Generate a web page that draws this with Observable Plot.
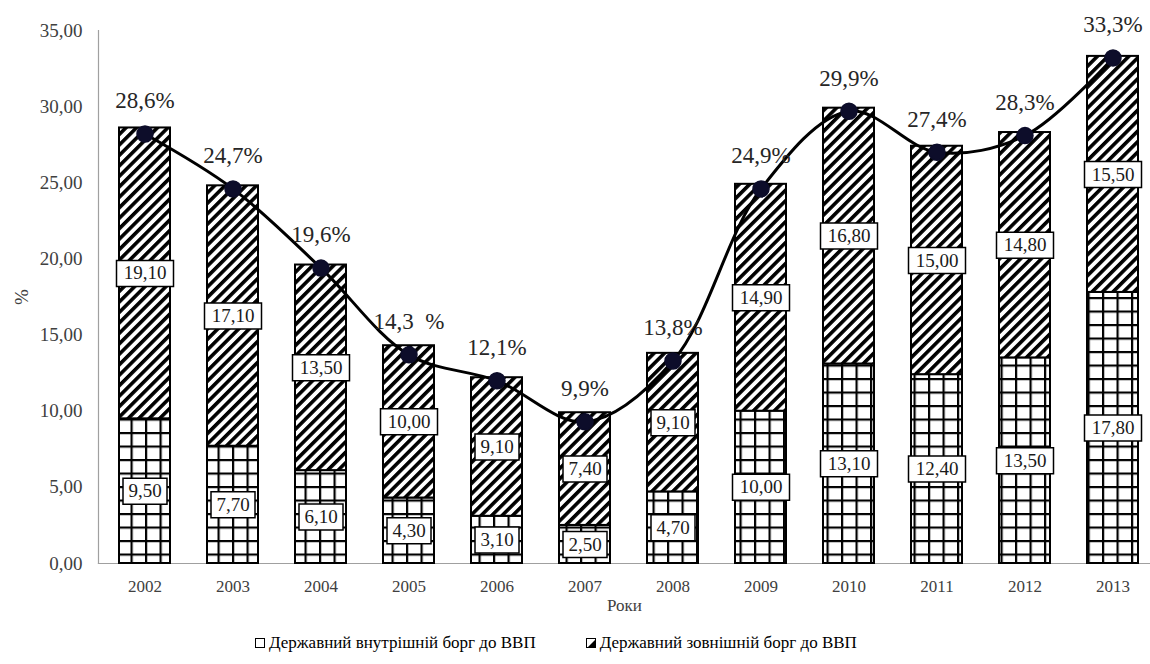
<!DOCTYPE html>
<html><head><meta charset="utf-8">
<script src="https://cdn.jsdelivr.net/npm/d3@7"></script>
<script src="https://cdn.jsdelivr.net/npm/@observablehq/plot@0.6"></script>
<style>
body{margin:0;background:#fff;font-family:"Liberation Serif","DejaVu Serif",serif;overflow:hidden}
#chart{position:relative;width:1150px;height:664px}
.legend{position:absolute;left:255px;top:633px;display:flex;gap:50px;font-size:17px;color:#000;line-height:20px}
.legend span{display:inline-flex;align-items:center;gap:3px}
</style></head><body>
<svg width="0" height="0" style="position:absolute">
<defs>
<pattern id="grid" width="14.5" height="13.5" patternUnits="userSpaceOnUse">
<rect width="14.5" height="13.5" fill="#fff"/>
<path d="M1.1 0V13.5M0 1.1H14.5" stroke="#000" stroke-width="2.2"/>
</pattern>
<pattern id="hatch" width="7.4" height="7.4" patternUnits="userSpaceOnUse" patternTransform="rotate(45)">
<rect width="7.4" height="7.4" fill="#fff"/>
<line x1="1.8" y1="0" x2="1.8" y2="7.4" stroke="#000" stroke-width="3.6"/>
</pattern>
</defs>
</svg>
<div id="chart"></div>
<script>
const years = ["2002","2003","2004","2005","2006","2007","2008","2009","2010","2011","2012","2013"];
const internalDebt = [9.5, 7.7, 6.1, 4.3, 3.1, 2.5, 4.7, 10.0, 13.1, 12.4, 13.5, 17.8];
const externalDebt = [19.1, 17.1, 13.5, 10.0, 9.1, 7.4, 9.1, 14.9, 16.8, 15.0, 14.8, 15.5];
const totalLine = [28.2, 24.6, 19.4, 13.7, 12.0, 9.3, 13.3, 24.6, 29.7, 27.0, 28.1, 33.2];
const totalLabels = ["28,6%","24,7%","19,6%","14,3  %","12,1%","9,9%","13,8%","24,9%","29,9%","27,4%","28,3%","33,3%"];
const yTicks = [0, 5, 10, 15, 20, 25, 30, 35];
const seriesNames = ["Державний внутрішній борг до ВВП", "Державний зовнішній борг до ВВП"];

const fmt = v => v.toFixed(2).replace(".", ",");
const rows = [];
years.forEach((yr, i) => {
  rows.push({year: yr, part: "internal", value: internalDebt[i]});
  rows.push({year: yr, part: "external", value: externalDebt[i]});
});
const patternOf = {internal: "url(#grid)", external: "url(#hatch)"};
const box4 = {draw(c) { c.rect(-22, -13, 44, 26); }};
const box5 = {draw(c) { c.rect(-28.5, -13, 57, 26); }};
const serif = "'Liberation Serif', 'DejaVu Serif', serif";

const chart = Plot.plot({
  width: 1150, height: 620,
  marginTop: 30, marginBottom: 57, marginLeft: 98, marginRight: 0,
  style: {fontFamily: serif, background: "#fff", color: "#404040", overflow: "visible"},
  x: {domain: years, range: [98, 1159], paddingInner: 0.42, paddingOuter: 0.21},
  y: {domain: [0, 35]},
  marks: [
    Plot.frame({anchor: "left", stroke: "#a0a0a0", strokeWidth: 1.2}),
    Plot.frame({anchor: "bottom", stroke: "#a0a0a0", strokeWidth: 1.2}),
    Plot.barY(rows, {x: "year", y: "value", fill: d => patternOf[d.part], stroke: "#000", strokeWidth: 2}),
    Plot.dot(rows, Plot.stackY({x: "year", y: "value", symbol: d => fmt(d.value).length > 4 ? box5 : box4, fill: "#fff", stroke: "#000", strokeWidth: 1.5})),
    Plot.text(rows, Plot.stackY({x: "year", y: "value", text: d => fmt(d.value), fontSize: 19, fontFamily: serif, fill: "#1a1a1a"})),
    Plot.line(totalLine, {x: years, y: totalLine, curve: "catmull-rom", stroke: "#000", strokeWidth: 3}),
    Plot.dot(totalLine, {x: years, y: totalLine, r: 8, fill: "#0d0d2a", stroke: "#0d0d2a"}),
    Plot.text(totalLabels, {x: years, y: totalLine, text: totalLabels, dy: -33, fontSize: 23, fontFamily: serif, fill: "#262626"}),
    Plot.axisY({ticks: yTicks, tickFormat: fmt, tickSize: 0, tickPadding: 16, fontSize: 19, fontFamily: serif,
      label: "%", labelAnchor: "center", labelOffset: 84, labelArrow: "none"}),
    Plot.axisX({tickSize: 0, tickPadding: 16, fontSize: 17, fontFamily: serif,
      label: "Роки", labelAnchor: "center", labelOffset: 47, labelArrow: "none"})
  ]
});
const host = document.getElementById("chart");
host.appendChild(chart);

const legend = document.createElement("div");
legend.className = "legend";
legend.innerHTML =
  `<span><svg width="11" height="11"><rect x="0.5" y="0.5" width="9" height="9" fill="#fff" stroke="#000"/></svg>${seriesNames[0]}</span>` +
  `<span><svg width="11" height="11"><rect x="0.5" y="0.5" width="9" height="9" fill="#fff" stroke="#000"/><polygon points="1,10 10,1 10,10" fill="#000"/></svg>${seriesNames[1]}</span>`;
host.appendChild(legend);
</script>
</body></html>
